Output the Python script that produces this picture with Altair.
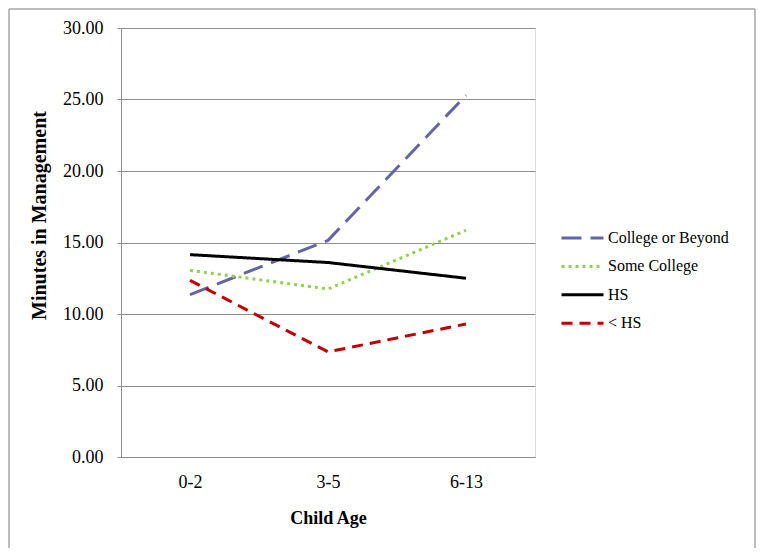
import altair as alt
import pandas as pd

ages = ["0-2", "3-5", "6-13"]
series = ["College or Beyond", "Some College", "HS", "< HS"]
college_beyond = [11.35, 15.15, 25.3]
some_college = [13.05, 11.75, 15.85]
hs = [14.15, 13.6, 12.5]
less_hs = [12.35, 7.35, 9.3]

colors = ["#6464A8", "#92D050", "#000000", "#C00000"]
dashes = [[20, 9], [3, 4], [1, 0], [11, 7]]

rows = []
for name, vals in zip(series, [college_beyond, some_college, hs, less_hs]):
    for a, v in zip(ages, vals):
        rows.append({"Child Age": a, "Minutes": v, "Education": name})
df = pd.DataFrame(rows)

FONT = "'Liberation Serif', 'Times New Roman', serif"

legend_kw = dict(title=None, orient="none", legendX=439, legendY=198,
                 symbolType="M-1,0H3", symbolSize=441, symbolStrokeWidth=3,
                 labelFontSize=16, labelFont=FONT, labelColor="black",
                 labelOffset=24, padding=0, rowPadding=8.4)

lines = alt.Chart(df).mark_line(strokeWidth=3, clip=False).encode(
    x=alt.X("Child Age:N", sort=ages,
            scale=alt.Scale(type="point", padding=0.5),
            axis=alt.Axis(title="Child Age", labelAngle=0, ticks=False, tickSize=0,
                          labelPadding=16, labelFontSize=18, labelFont=FONT,
                          labelColor="black", domainColor="#8C8C8C",
                          titleFont=FONT, titleFontSize=18, titleFontWeight="bold",
                          titleColor="black", titleY=61, titleBaseline="middle",
                          grid=False)),
    y=alt.Y("Minutes:Q", scale=alt.Scale(domain=[0, 30]),
            axis=alt.Axis(title="Minutes in Management", values=[0, 5, 10, 15, 20, 25, 30],
                          format=".2f", tickSize=4, tickColor="#8C8C8C", labelPadding=14,
                          labelFontSize=18, labelFont=FONT, labelColor="black",
                          domainColor="#8C8C8C", gridColor="#8C8C8C", gridWidth=1,
                          titleFont=FONT, titleFontSize=20, titleFontWeight="bold",
                          titleColor="black", titleX=-82, titleY=187,
                          titleBaseline="middle", titleAngle=270)),
    color=alt.Color("Education:N", sort=series,
                    scale=alt.Scale(domain=series, range=colors),
                    legend=alt.Legend(**legend_kw)),
    strokeDash=alt.StrokeDash("Education:N", sort=series,
                              scale=alt.Scale(domain=series, range=dashes),
                              legend=alt.Legend(**legend_kw)),
)

border_color = "#A6A6A6"
one = pd.DataFrame({"k": [0]})
left = alt.Chart(one).mark_rule(color=border_color, strokeWidth=1.5, clip=False).encode(
    x=alt.value(-112), y=alt.value(-19), y2=alt.value(520))
top = alt.Chart(one).mark_rule(color=border_color, strokeWidth=1.5, clip=False).encode(
    x=alt.value(-112), x2=alt.value(634), y=alt.value(-19))
right = alt.Chart(one).mark_rule(color=border_color, strokeWidth=1.5, clip=False).encode(
    x=alt.value(634), y=alt.value(-19), y2=alt.value(520))

chart = alt.layer(left, top, right, lines).properties(
    width=414, height=429, padding=0, background="white"
).configure_view(stroke=None).configure(
    font=FONT
).configure_axis(labelFont=FONT, titleFont=FONT).configure_legend(labelFont=FONT)

chart.save("out.html", embed_options={"renderer": "svg", "actions": False})
